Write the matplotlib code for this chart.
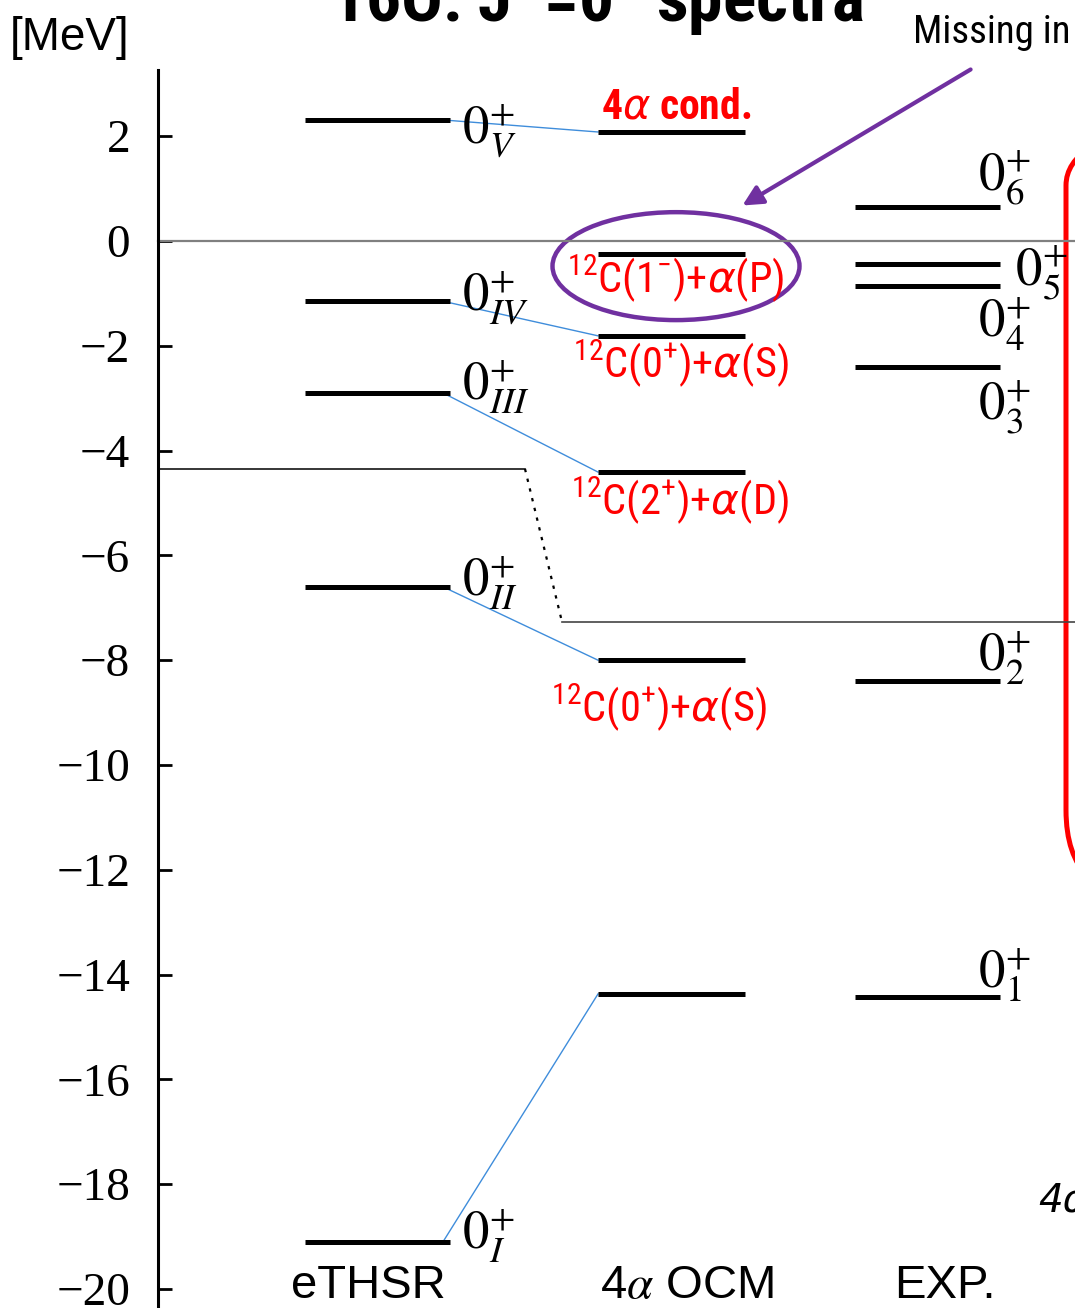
import matplotlib
matplotlib.use("Agg")
import matplotlib.pyplot as plt
from matplotlib.patches import Ellipse, FancyBboxPatch

plt.rcParams["mathtext.fontset"] = "custom"
plt.rcParams["mathtext.rm"] = "Roboto Condensed"
plt.rcParams["mathtext.it"] = "DejaVu Sans:italic"
plt.rcParams["mathtext.bf"] = "Roboto Condensed:bold"

# -----------------------------------------------------------
#   energy levels [MeV], relative to the 4-alpha threshold
# -----------------------------------------------------------
ethsr = [2.31, -1.15, -2.90, -6.60, -19.10]
ethsr_names = ["V", "IV", "III", "II", "I"]
ocm = [2.08, -0.25, -1.81, -4.41, -8.00, -14.37]
ocm_names = ["4$\\alpha$ cond.",
             "$^{12}$C(1$^{-}$)+$\\alpha$(P)",
             "$^{12}$C(0$^{+}$)+$\\alpha$(S)",
             "$^{12}$C(2$^{+}$)+$\\alpha$(D)",
             "$^{12}$C(0$^{+}$)+$\\alpha$(S)",
             ""]
exp = [0.65, -0.44, -0.86, -2.40, -8.40, -14.43]
exp_names = ["6", "5", "4", "3", "2", "1"]
links = [(0, 0), (1, 2), (2, 3), (3, 4), (4, 5)]   # eTHSR -> OCM
thr_ethsr = -4.35
thr_exp = -7.27
columns = ["eTHSR", "4$\\alpha$ OCM", "EXP."]

# layout (x in pixel-like units)
col_x = [(305, 450), (598, 745), (855, 1000)]
col_mid = [368, 687, 945]
ethsr_lab_y = [1.87, -1.32, -3.03, -6.76, -19.22]
exp_lab = [(978, 0.97), (1015, -0.84), (978, -1.83), (978, -3.42), (978, -8.19), (978, -14.24)]
ocm_lab = [(676, 2.55), (676, -0.72), (681, -2.35), (680, -4.95), (659, -8.9)]

fig = plt.figure(figsize=(10.75, 13.08), dpi=100)
ax = fig.add_axes([158 / 1075, 0, 1 - 158 / 1075, (1308 - 70) / 1308])
ax.set_xlim(158, 1075)
ax.set_ylim(-20.363, 3.263)

for s in ["top", "right", "bottom"]:
    ax.spines[s].set_visible(False)
ax.spines["left"].set_linewidth(2.2)
ax.set_xticks([])
ax.set_yticks(range(-20, 3, 2))
ax.tick_params(axis="y", direction="in", length=10, width=2, pad=20)
for t in ax.get_yticklabels():
    t.set_fontfamily("Liberation Serif")
    t.set_fontsize(34)

# thresholds
ax.plot([158, 1075], [0, 0], color="#808080", lw=1.6, clip_on=False)
ax.plot([158, 525], [thr_ethsr, thr_ethsr], color="black", lw=1.1)
ax.plot([525, 562], [thr_ethsr, thr_exp], color="black", lw=1.6, ls=(0, (1.5, 3)))
ax.plot([562, 1075], [thr_exp, thr_exp], color="#444444", lw=1.2, clip_on=False)

# blue links
for i, j in links:
    ax.plot([443, 598], [ethsr[i], ocm[j]], color="#3f8ddb", lw=1.0)

# levels
for levels, (x0, x1) in zip([ethsr, ocm, exp], col_x):
    for e in levels:
        ax.plot([x0, x1], [e, e], color="black", lw=3.6, solid_capstyle="butt")

# level labels
for y, n in zip(ethsr_lab_y, ethsr_names):
    ax.text(462, y, "$0^{+}_{%s}$" % n, fontsize=38, math_fontfamily="stix",
            va="baseline", ha="left")
for (x, y), n in zip(exp_lab, exp_names):
    ax.text(x, y, "$0^{+}_{%s}$" % n, fontsize=38, math_fontfamily="stix",
            va="baseline", ha="left")
for k, ((x, y), n) in enumerate(zip(ocm_lab, ocm_names)):
    ax.text(x, y, n, fontsize=30 if k == 0 else 30.5, color="red", family="Roboto Condensed",
            fontweight="bold" if k == 0 else "normal",
            math_fontfamily="custom", ha="center", va="center")

# missing-state marker
ax.add_patch(Ellipse((676, -0.48), 247, 2.06, fill=False, ec="#7030A0", lw=3.2))
ax.annotate("", xy=(740, 0.65), xytext=(973, 3.30), annotation_clip=False,
            arrowprops=dict(arrowstyle="-|>", color="#7030A0", lw=3, mutation_scale=30))

# red box on the right
ax.add_patch(FancyBboxPatch((1066, -12.58), 500, 15.36, boxstyle="round,pad=0,rounding_size=90",
                            mutation_aspect=1 / 52.4, fill=False, ec="red", lw=3.6, clip_on=False))

# column names
for x, c in zip(col_mid, columns):
    ax.text(x, -20.17, c, fontsize=34, family="Liberation Sans", math_fontfamily="stix",
            ha="center", va="baseline")

fig.text(10 / 1075, 1 - 50 / 1308, "[MeV]", fontsize=33, family="Liberation Sans", va="baseline")
fig.text(597 / 1075, 1 - 22 / 1308, "16O: J$^{\\pi}$=0$^{+}$ spectra", fontsize=50,
         family="Roboto Condensed", fontweight="bold", math_fontfamily="custom",
         ha="center", va="baseline")
fig.text(913 / 1075, 1 - 43 / 1308, "Missing in", fontsize=28, family="Roboto Condensed",
         va="baseline")
fig.text(1038 / 1075, 1 - 1212 / 1308, "4α", fontsize=28, family="DejaVu Sans",
         style="italic", va="baseline")

fig.savefig("out.png", dpi=100)
